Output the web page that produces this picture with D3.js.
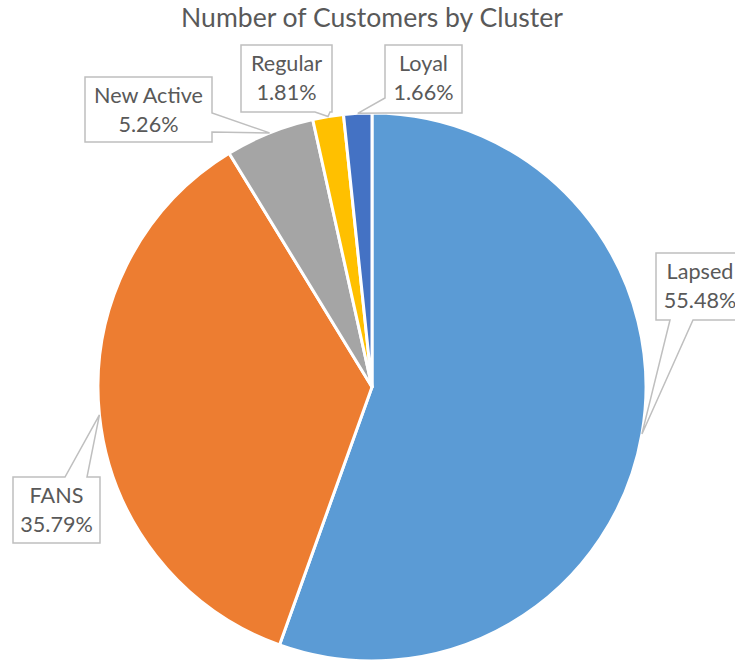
<!DOCTYPE html>
<html>
<head>
<meta charset="utf-8">
<script src="https://cdn.jsdelivr.net/npm/d3@7/dist/d3.min.js"></script>
<style>
  html, body { margin: 0; padding: 0; background: #fff; }
  svg { display: block; }
  text { font-family: Lato, "Open Sans", sans-serif; fill: #595959; }
</style>
</head>
<body>
<script>
// Customer clusters and their share of customers (percent)
const clusters = ["Lapsed", "FANS", "New Active", "Regular", "Loyal"];
const shares = [55.48, 35.79, 5.26, 1.81, 1.66];
const sliceColors = ["#5B9BD5", "#ED7D31", "#A5A5A5", "#FFC000", "#4472C4"];
const chartTitle = "Number of Customers by Cluster";

const W = 735, H = 662;
const cx = 372, cy = 387, R = 274;

// Callout boxes: box geometry plus the edge the pointer leaves from
const callouts = {
  "Lapsed":     { x: 656, y: 253, w: 88,  h: 67, side: "bottom", a: 670, b: 693 },
  "FANS":       { x: 13,  y: 477, w: 87,  h: 66, side: "top",    a: 65,  b: 87 },
  "New Active": { x: 85,  y: 77,  w: 127, h: 65, side: "right",  a: 113, b: 132 },
  "Regular":    { x: 241, y: 45,  w: 91,  h: 67, side: "bottom", a: 315, b: 330 },
  "Loyal":      { x: 385, y: 45,  w: 77,  h: 68, side: "left",   a: 98,  b: 113 }
};

const svg = d3.select("body").append("svg")
  .attr("width", W).attr("height", H);

// Fit a font size so a string spans a given width
function fitSize(str, target) {
  const t = svg.append("text").attr("font-size", 100).text(str);
  const w = t.node().getComputedTextLength();
  t.remove();
  return 100 * target / w;
}
const titleSize = fitSize(chartTitle, 382);
const labelSize = fitSize("New Active", 109);

svg.append("text")
  .attr("x", 372).attr("y", 27)
  .attr("text-anchor", "middle")
  .attr("font-size", titleSize)
  .text(chartTitle);

const data = clusters.map((c, i) => ({ name: c, value: shares[i], color: sliceColors[i] }));

const pie = d3.pie().value(d => d.value).sort(null);
const arcs = pie(data);
const arc = d3.arc().innerRadius(0).outerRadius(R);
const rim = d3.arc().innerRadius(R).outerRadius(R);

const g = svg.append("g").attr("transform", `translate(${cx},${cy})`);
g.selectAll("path.slice")
  .data(arcs)
  .join("path")
  .attr("class", "slice")
  .attr("d", arc)
  .attr("fill", d => d.data.color)
  .attr("stroke", "#fff")
  .attr("stroke-width", 3)
  .attr("stroke-linejoin", "round");

// Callout outline: rectangle with a wedge reaching the slice rim
function calloutPath(c, tip) {
  const x0 = c.x, y0 = c.y, x1 = c.x + c.w, y1 = c.y + c.h;
  const p = d3.path();
  p.moveTo(x0, y0);
  if (c.side === "top") { p.lineTo(c.a, y0); p.lineTo(tip[0], tip[1]); p.lineTo(c.b, y0); }
  p.lineTo(x1, y0);
  if (c.side === "right") { p.lineTo(x1, c.a); p.lineTo(tip[0], tip[1]); p.lineTo(x1, c.b); }
  p.lineTo(x1, y1);
  if (c.side === "bottom") { p.lineTo(c.b, y1); p.lineTo(tip[0], tip[1]); p.lineTo(c.a, y1); }
  p.lineTo(x0, y1);
  if (c.side === "left") { p.lineTo(x0, c.b); p.lineTo(tip[0], tip[1]); p.lineTo(x0, c.a); }
  p.closePath();
  return p.toString();
}

const labels = svg.append("g");
arcs.forEach(d => {
  const c = callouts[d.data.name];
  const m = rim.centroid(d);
  const tip = [cx + m[0], cy + m[1]];
  labels.append("path")
    .attr("d", calloutPath(c, tip))
    .attr("fill", "#fff")
    .attr("stroke", "#BFBFBF")
    .attr("stroke-width", 1.5)
    .attr("stroke-linejoin", "miter");
  const tx = c.x + c.w / 2;
  labels.append("text")
    .attr("x", tx).attr("y", c.y + 26)
    .attr("text-anchor", "middle")
    .attr("font-size", labelSize)
    .text(d.data.name);
  labels.append("text")
    .attr("x", tx).attr("y", c.y + 55)
    .attr("text-anchor", "middle")
    .attr("font-size", labelSize)
    .text(d3.format(".2f")(d.data.value) + "%");
});
</script>
</body>
</html>
